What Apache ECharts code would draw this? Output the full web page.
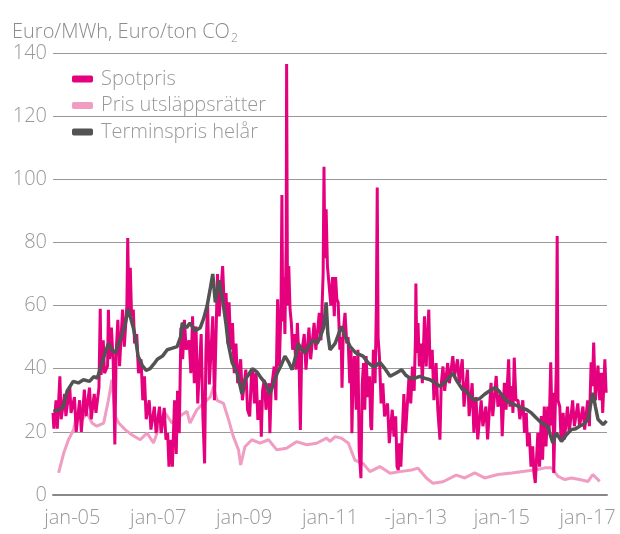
<!DOCTYPE html>
<html>
<head>
<meta charset="utf-8">
<script src="https://cdn.jsdelivr.net/npm/echarts@6/dist/echarts.min.js"></script>
<style>
  body { margin: 0; background: #fff; }
  #chart { width: 620px; height: 534px; }
</style>
</head>
<body>
<div id="chart"></div>
<script>
// x values are decimal years, y values in Euro
const tickYears = [2005, 2007, 2009, 2011, 2013, 2015, 2017];
const tickLabels = ['jan-05', 'jan-07', 'jan-09', 'jan-11', '-jan-13', 'jan-15', 'jan-17'];
const yTicks = [0, 20, 40, 60, 80, 100, 120, 140];

const seriesNames = ['Spotpris', 'Pris utsläppsrätter', 'Terminspris helår'];

const spotData = [
  [2004.55,26],[2004.57,21],[2004.62,30],[2004.65,21],[2004.71,37.6],[2004.74,24],
  [2004.82,32],[2004.85,25],[2004.94,34.4],[2004.97,26],[2005.05,31],[2005.09,20],
  [2005.17,30],[2005.21,20],[2005.28,33.4],[2005.32,25],[2005.40,34],[2005.44,24],
  [2005.51,32],[2005.55,26],[2005.62,34],[2005.65,59],[2005.67,38],[2005.72,49],[2005.75,38.6],
  [2005.82,40.8],[2005.84,58.7],[2005.87,43],[2005.91,53],[2005.95,43],[2005.99,16],[2006.02,45],
  [2006.06,55.5],[2006.10,40.8],[2006.17,58.7],[2006.21,47],[2006.27,60],[2006.29,81.4],[2006.32,56.6],
  [2006.35,72],[2006.38,56.6],[2006.42,58.7],[2006.45,48],[2006.50,51],[2006.54,38.6],
  [2006.60,43],[2006.64,30],[2006.68,37.6],[2006.72,24],[2006.79,30],[2006.83,20.7],
  [2006.91,28],[2006.95,19.6],[2007.03,28],[2007.07,19.6],[2007.14,27.6],[2007.18,17.5],
  [2007.22,19.6],[2007.25,9],[2007.30,17.5],[2007.33,9],[2007.38,30],[2007.42,13],
  [2007.45,33],[2007.49,19.6],[2007.53,53],[2007.57,43],[2007.61,55.5],[2007.65,46],
  [2007.72,49],[2007.76,38.6],[2007.80,56.6],[2007.84,35.4],[2007.88,53.4],[2007.92,29],
  [2008.00,51],[2008.04,25],[2008.08,10],[2008.11,45],[2008.15,61],[2008.19,35],
  [2008.27,56.6],[2008.31,30],[2008.38,70],[2008.42,56.6],[2008.50,72.5],[2008.54,58.7],
  [2008.58,64],[2008.62,48],[2008.65,61],[2008.69,46],[2008.73,54.5],[2008.77,38.6],
  [2008.81,48],[2008.85,35.4],[2008.92,43],[2008.96,30],[2009.04,39.7],[2009.08,27],
  [2009.13,24.9],[2009.17,38],[2009.20,39.7],[2009.24,29],[2009.28,38.6],[2009.32,23.8],
  [2009.38,30],[2009.40,18.5],[2009.43,33],[2009.47,36.5],[2009.51,27],
  [2009.58,35.4],[2009.60,19.6],[2009.63,33],[2009.70,40.7],[2009.74,30],
  [2009.78,62],[2009.82,40.7],[2009.86,60],[2009.88,95],[2009.90,55],[2009.92,69],[2009.95,51],
  [2009.98,80],[2009.99,136.5],[2010.01,60],[2010.04,72.5],[2010.07,58.7],
  [2010.10,54.5],[2010.13,46],[2010.17,51],[2010.21,39.7],[2010.24,54.5],[2010.28,41.8],
  [2010.31,20.6],[2010.34,45],[2010.40,51],[2010.44,39.7],[2010.51,53],[2010.55,43],
  [2010.63,54.5],[2010.67,46],[2010.75,57.7],[2010.79,49],[2010.84,70],[2010.86,104],[2010.88,75],
  [2010.91,90.5],[2010.94,72.5],[2010.98,72.5],[2011.02,60],[2011.06,69],[2011.10,56.6],
  [2011.13,69],[2011.16,62],[2011.19,61],[2011.23,46],[2011.26,50],[2011.28,34],[2011.31,52],
  [2011.35,57.7],[2011.39,48],[2011.42,50],[2011.46,35.4],[2011.49,46],[2011.51,19.6],[2011.54,40],
  [2011.57,44],[2011.61,27],[2011.65,46],[2011.68,14],[2011.72,5.3],[2011.75,35],
  [2011.78,41.8],[2011.81,27],[2011.84,44],[2011.88,31],[2011.92,37.6],[2011.95,21.7],[2011.97,20.6],
  [2012.01,46],[2012.05,35.4],[2012.08,60],[2012.10,97.4],[2012.12,50],[2012.15,44],[2012.19,29],
  [2012.23,35.4],[2012.27,24.9],[2012.34,29],[2012.38,16.4],[2012.45,27],[2012.49,18.5],
  [2012.53,24.9],[2012.56,9],[2012.59,7.9],[2012.62,16.4],[2012.65,9],[2012.72,32],[2012.76,19.6],
  [2012.84,37.6],[2012.88,29],[2012.92,40.7],[2012.96,33],[2012.99,50],[2013.00,67],[2013.02,45],
  [2013.05,54.5],[2013.08,40.7],[2013.12,48],[2013.15,35.4],[2013.20,56.6],[2013.24,40.7],
  [2013.30,58.7],[2013.33,40],[2013.38,46],[2013.42,30],[2013.47,41.8],[2013.51,27],
  [2013.56,17.5],[2013.59,35],[2013.63,40.7],[2013.67,33],[2013.74,41.8],[2013.78,35.4],
  [2013.86,44],[2013.90,37.6],[2013.97,43],[2014.01,35.4],[2014.08,43],[2014.12,28],
  [2014.20,39.7],[2014.24,25],[2014.31,35.4],[2014.35,19.7],[2014.40,31],[2014.44,17.6],
  [2014.52,30],[2014.56,21.8],[2014.63,28],[2014.67,17.6],[2014.75,35.5],[2014.79,25],
  [2014.87,37.7],[2014.91,28],[2014.98,32.4],[2015.01,18.6],[2015.06,35.5],[2015.10,27],
  [2015.16,43],[2015.19,28],[2015.23,34.5],[2015.26,26],[2015.29,43.5],[2015.33,30],
  [2015.38,30],[2015.42,24],[2015.49,30],[2015.53,19.7],[2015.57,26],[2015.60,15.4],
  [2015.64,19.7],[2015.68,9],[2015.72,15.4],[2015.75,7],[2015.78,3.8],[2015.84,19.7],[2015.88,9],
  [2015.92,25],[2015.95,11.2],[2015.99,28],[2016.03,15.4],[2016.07,28],[2016.10,19.7],
  [2016.14,42],[2016.17,22],[2016.19,32.4],[2016.21,7],[2016.24,25],[2016.27,40],[2016.29,82],[2016.31,30],
  [2016.35,28],[2016.38,17.6],[2016.43,26],[2016.46,17.6],[2016.53,28],[2016.57,19.7],
  [2016.65,30],[2016.69,21.8],[2016.77,29],[2016.81,21.8],[2016.89,28],[2016.93,20.7],
  [2017.00,30],[2017.04,21.8],[2017.08,42],[2017.11,34.5],[2017.14,48.3],[2017.18,30],
  [2017.24,41],[2017.28,30],[2017.32,38.7],[2017.35,26],[2017.40,43],[2017.43,32.4]
];

const euaData = [
  [2004.68,7],[2004.80,13.3],[2004.91,17.5],[2005.03,20.7],[2005.11,26],[2005.23,23.9],
  [2005.34,26],[2005.46,22.8],[2005.57,21.8],[2005.73,22.8],[2005.84,30],[2005.92,36.5],
  [2006.00,25],[2006.08,22.8],[2006.23,20.7],[2006.39,19],[2006.58,17.5],[2006.74,19.6],
  [2006.89,16.5],[2007.00,20.7],[2007.16,26],[2007.32,22.8],[2007.51,25],[2007.67,26.5],
  [2007.74,22.8],[2007.90,27],[2008.05,29],[2008.21,31],[2008.29,34.4],[2008.37,30],
  [2008.52,29],[2008.64,23.8],[2008.75,18.5],[2008.87,14.3],[2008.92,9.5],[2009.02,15.3],
  [2009.18,17.5],[2009.37,16.4],[2009.57,17.5],[2009.76,14.3],[2009.99,14.8],[2010.22,16.9],
  [2010.46,15.9],[2010.69,16.4],[2010.92,18],[2011.00,17],[2011.12,18.5],[2011.27,18],
  [2011.43,16.4],[2011.58,11],[2011.77,10],[2011.93,7.4],[2012.16,9],[2012.40,6.9],
  [2012.63,7.4],[2012.90,7.9],[2013.05,8.5],[2013.25,5.3],[2013.40,3.7],[2013.63,4.2],
  [2013.94,6.3],[2014.14,5.4],[2014.18,4.8],[2014.37,7],[2014.60,5.4],[2014.91,6.5],
  [2015.23,7],[2015.53,7.5],[2015.81,8],[2016.00,8.6],[2016.16,8.6],[2016.31,5.9],
  [2016.47,4.9],[2016.62,5.4],[2016.81,4.9],[2017.01,4.3],[2017.12,6.5],[2017.28,4.3]
];

const terminData = [
  [2004.56,26.5],[2004.70,27],[2004.79,28],[2004.88,33],[2005.02,36],[2005.14,35.5],
  [2005.26,36.5],[2005.40,36],[2005.50,37.5],[2005.58,37],[2005.65,40],[2005.74,44],
  [2005.84,48],[2005.92,46],[2006.00,45],[2006.08,48],[2006.16,51],[2006.23,54],
  [2006.30,59],[2006.36,56],[2006.42,53],[2006.48,49],[2006.53,44],[2006.63,41],
  [2006.72,39.5],[2006.81,40],[2006.90,41.5],[2006.98,43],[2007.10,44],[2007.21,46],
  [2007.33,46.5],[2007.44,47],[2007.52,50],[2007.56,54.5],[2007.66,53],[2007.74,54.5],
  [2007.86,52],[2007.98,53],[2008.06,56],[2008.14,60],[2008.22,66],[2008.27,70],
  [2008.33,61],[2008.42,68],[2008.51,61],[2008.58,54],[2008.63,48],[2008.72,42],
  [2008.84,38.6],[2008.95,32],[2009.02,36.5],[2009.10,38],[2009.19,40],[2009.30,39],
  [2009.40,37],[2009.49,35.5],[2009.60,32],[2009.68,35],[2009.77,38.6],[2009.86,41],
  [2009.95,44],[2010.04,42],[2010.12,39.7],[2010.20,44],[2010.26,48],[2010.34,46],
  [2010.42,45],[2010.50,47],[2010.60,49],[2010.70,48],[2010.77,50],[2010.85,53],
  [2010.91,61],[2010.95,51],[2011.00,46],[2011.06,47],[2011.12,48],[2011.20,51],
  [2011.27,53.4],[2011.36,50],[2011.47,47],[2011.60,45],[2011.77,44],[2011.88,42],
  [2012.00,40.7],[2012.08,41],[2012.16,42],[2012.28,40],[2012.40,37.6],[2012.52,38.5],
  [2012.67,39.7],[2012.76,38],[2012.86,37],[2012.98,37],[2013.09,37.6],[2013.20,37],
  [2013.33,36.5],[2013.45,35.5],[2013.56,34.4],[2013.70,36],[2013.86,38.6],[2013.96,36],
  [2014.09,33.3],[2014.14,33.4],[2014.25,31.5],[2014.37,30],[2014.48,30.5],[2014.60,31.9],
  [2014.72,33],[2014.84,34],[2014.93,33],[2015.02,31.3],[2015.10,30],[2015.19,29.2],
  [2015.32,28.5],[2015.46,27.6],[2015.58,27],[2015.69,26],[2015.80,24.5],[2015.92,22.9],
  [2016.07,21.8],[2016.13,19],[2016.19,16.5],[2016.27,19.7],[2016.39,17],[2016.50,19],
  [2016.62,20.7],[2016.72,21],[2016.81,21.8],[2016.92,22.5],[2017.01,24],[2017.06,28],
  [2017.12,32.4],[2017.18,28],[2017.24,24],[2017.36,22.3],[2017.44,23.5]
];

const chartDom = document.getElementById('chart');
const myChart = echarts.init(chartDom);

const font = '"Open Sans", sans-serif';
const grey = '#999';

myChart.setOption({
  animation: false,
  textStyle: { fontFamily: font, fontWeight: 300 },
  title: {
    text: 'Euro/MWh, Euro/ton CO{sub|2}',
    left: 7,
    top: 16,
    textStyle: {
      fontFamily: font,
      fontWeight: 300,
      fontSize: 20,
      color: '#8c8c8c',
      lineHeight: 22,
      rich: {
        sub: { fontFamily: font, fontWeight: 300, fontSize: 12, color: '#8c8c8c', padding: [14, 0, 0, 1] }
      }
    }
  },
  legend: {
    data: seriesNames,
    orient: 'vertical',
    left: 72,
    top: 69,
    padding: 0,
    itemGap: 6.5,
    itemWidth: 21,
    itemHeight: 7,
    icon: 'roundRect',
    textStyle: { fontFamily: font, fontWeight: 300, fontSize: 20, color: grey, lineHeight: 20, padding: [0, 0, 0, 3] }
  },
  grid: { left: 53, right: 13, top: 53, bottom: 39, containLabel: false },
  xAxis: {
    type: 'value',
    min: 2004.55,
    max: 2017.45,
    splitLine: { show: false },
    axisTick: { show: false },
    axisLine: { show: true, lineStyle: { color: '#888', width: 2 } },
    axisLabel: {
      customValues: tickYears,
      formatter: v => tickLabels[tickYears.indexOf(Math.round(v))],
      color: grey,
      fontFamily: font,
      fontWeight: 300,
      fontSize: 20,
      margin: 13
    }
  },
  yAxis: {
    type: 'value',
    min: yTicks[0],
    max: yTicks[yTicks.length - 1],
    interval: 20,
    axisLine: { show: false },
    axisTick: { show: false },
    splitLine: { lineStyle: { color: '#999', width: 1 } },
    axisLabel: { color: grey, fontFamily: font, fontWeight: 300, fontSize: 20, margin: 6 }
  },
  series: [
    {
      name: seriesNames[1],
      type: 'line',
      data: euaData,
      showSymbol: false,
      itemStyle: { color: '#f09cc3' },
      lineStyle: { color: '#f09cc3', width: 3 }
    },
    {
      name: seriesNames[0],
      type: 'line',
      data: spotData,
      showSymbol: false,
      itemStyle: { color: '#e5007e' },
      lineStyle: { color: '#e5007e', width: 3 }
    },
    {
      name: seriesNames[2],
      type: 'line',
      data: terminData,
      showSymbol: false,
      itemStyle: { color: '#535353' },
      lineStyle: { color: '#535353', width: 3.5 }
    }
  ]
});
</script>
</body>
</html>
